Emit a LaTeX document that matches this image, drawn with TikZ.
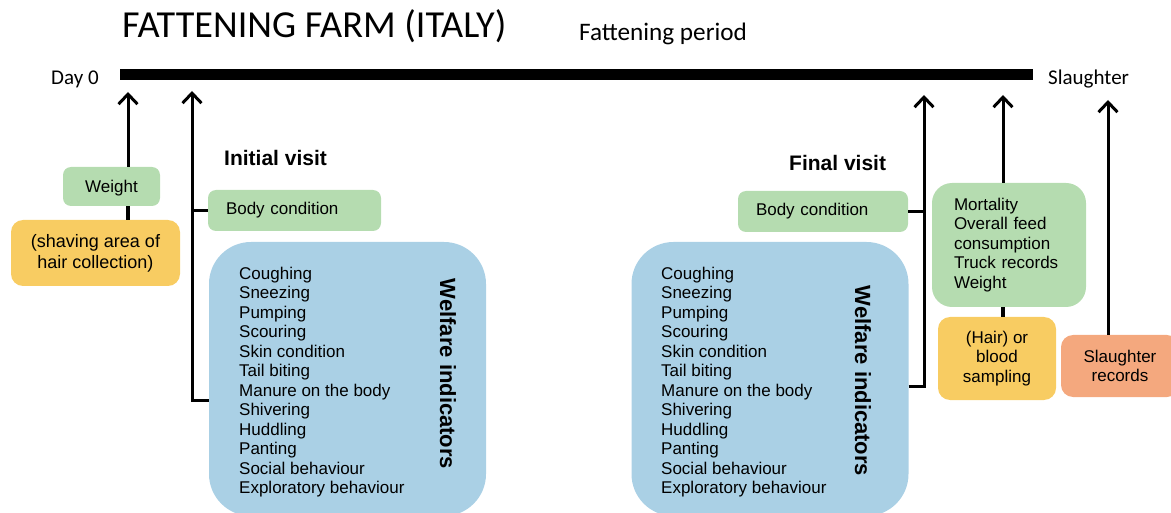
\documentclass[tikz,border=0pt]{standalone}
\usepackage{fontspec}
\setmainfont{Liberation Sans}
\newfontfamily\calibri{Carlito}
\usetikzlibrary{arrows.meta, positioning}
\definecolor{cgreen}{HTML}{B5DCB0}
\definecolor{cyellow}{HTML}{F8CC62}
\definecolor{cblue}{HTML}{AAD0E5}
\definecolor{csalmon}{HTML}{F4A87E}
\tikzset{
  box/.style={fill=#1, rounded corners=8pt, inner sep=0pt, align=center, font=\fontsize{17}{19.5}\selectfont},
  box/.default=cgreen,
  welfare/.style={fill=cblue, rounded corners=42pt, minimum width=277pt, minimum height=274pt},
  items/.style={align=left, inner sep=0pt, anchor=north west, font=\fontsize{17}{19.5}\selectfont},
  sidelabel/.style={rotate=-90, inner sep=0pt, font=\bfseries\fontsize{22}{24}\selectfont},
  visit/.style={anchor=base west, inner sep=0pt, font=\bfseries\fontsize{21}{24}\selectfont},
  timelabel/.style={anchor=base west, inner sep=0pt, font=\calibri\fontsize{21}{24}\selectfont},
  uparrow/.style={-{Straight Barb[length=10pt, width=19pt]}, line width=3pt},
  link/.style={line width=3pt},
}

\begin{document}
\begin{tikzpicture}[x=1pt, y=-1pt]
  \useasboundingbox (0,0) rectangle (1171,513);
  % timeline
  \coordinate (t0) at (120,74.5);
  \coordinate (t1) at (1033,74.5);
  \draw[line width=11pt] (t0) -- (t1);
  \node[anchor=base west, inner sep=0pt, font=\calibri\fontsize{38.2}{40}\selectfont] (title) at (122,38) {FATTENING FARM (ITALY)};
  \node[timelabel, font=\calibri\fontsize{25.2}{28}\selectfont] (period) at (579,41) {Fattening period};
  \node[timelabel] (day0) at (51,84.5) {Day 0};
  \node[timelabel] (slaughter) at (1048,84.5) {Slaughter};

  % initial visit
  \node[visit] (iv) at (224,166) {Initial visit};
  \node[box, minimum width=97pt, minimum height=39pt, text depth=0pt] (wt) at (111.5,186.5) {Weight};
  \node[box=cyellow, rounded corners=12pt, minimum width=169pt, minimum height=66pt, font=\fontsize{18}{21}\selectfont] (hc) at (95.5,253) {(shaving area of\\hair collection)};
  \node[box, minimum height=41pt, text width=137pt, inner xsep=18pt, align=left] (bcl) at (294.5,210.5) {Body condition};
  \node[welfare] (wl) at (347.5,379) {};
  \node[items] (wl-items) at (239,266.5) {Coughing\\Sneezing\\Pumping\\Scouring\\Skin condition\\Tail biting\\Manure on the body\\Shivering\\Huddling\\Panting\\Social behaviour\\Exploratory behaviour};
  \node[sidelabel] (wl-label) at (448,374) {Welfare indicators};

  \coordinate (wt-tip) at (128,92);
  \coordinate (iv-tip) at (192,91);
  \draw[uparrow] (wt.north -| wt-tip) -- (wt-tip);
  \draw[link, line width=4pt] (wt.south -| wt-tip) -- (hc.north -| wt-tip);
  \draw[uparrow] ([yshift=-21pt]wl.west) -| (iv-tip);
  \draw[link] (bcl.west) -- (bcl.west -| iv-tip);

  % final visit and slaughter
  \node[visit] (fv) at (789,171) {Final visit};
  \node[box, minimum height=41pt, text width=134pt, inner xsep=18pt, align=left] (bcr) at (823,211.5) {Body condition};
  \node[welfare] (wr) at (770,379) {};
  \node[items] (wr-items) at (661,266.5) {Coughing\\Sneezing\\Pumping\\Scouring\\Skin condition\\Tail biting\\Manure on the body\\Shivering\\Huddling\\Panting\\Social behaviour\\Exploratory behaviour};
  \node[sidelabel] (wr-label) at (863,381) {Welfare indicators};
  \node[box, rounded corners=20pt, minimum height=124pt, text width=110pt, inner xsep=22pt, align=left] (mort) at (1009,245) {Mortality\\Overall feed\\consumption\\Truck records\\Weight};
  \node[box=cyellow, rounded corners=12pt, minimum width=118pt, minimum height=83pt] (smp) at (997,358.5) {(Hair) or\\blood\\sampling};
  \node[box=csalmon, rounded corners=12pt, minimum width=118pt, minimum height=62pt] (srec) at (1120,366) {Slaughter\\records};

  \coordinate (fv-tip) at (924,95);
  \coordinate (mort-tip) at (1003,95);
  \coordinate (srec-tip) at (1108,100);
  \draw[uparrow] ([yshift=-7pt]wr.east) -| (fv-tip);
  \draw[link] (bcr.east) -- (bcr.east -| fv-tip);
  \draw[uparrow] (mort.north -| mort-tip) -- (mort-tip);
  \draw[link, line width=4pt] (mort.south -| mort-tip) -- (smp.north -| mort-tip);
  \draw[uparrow] (srec.north -| srec-tip) -- (srec-tip);
\end{tikzpicture}
\end{document}
